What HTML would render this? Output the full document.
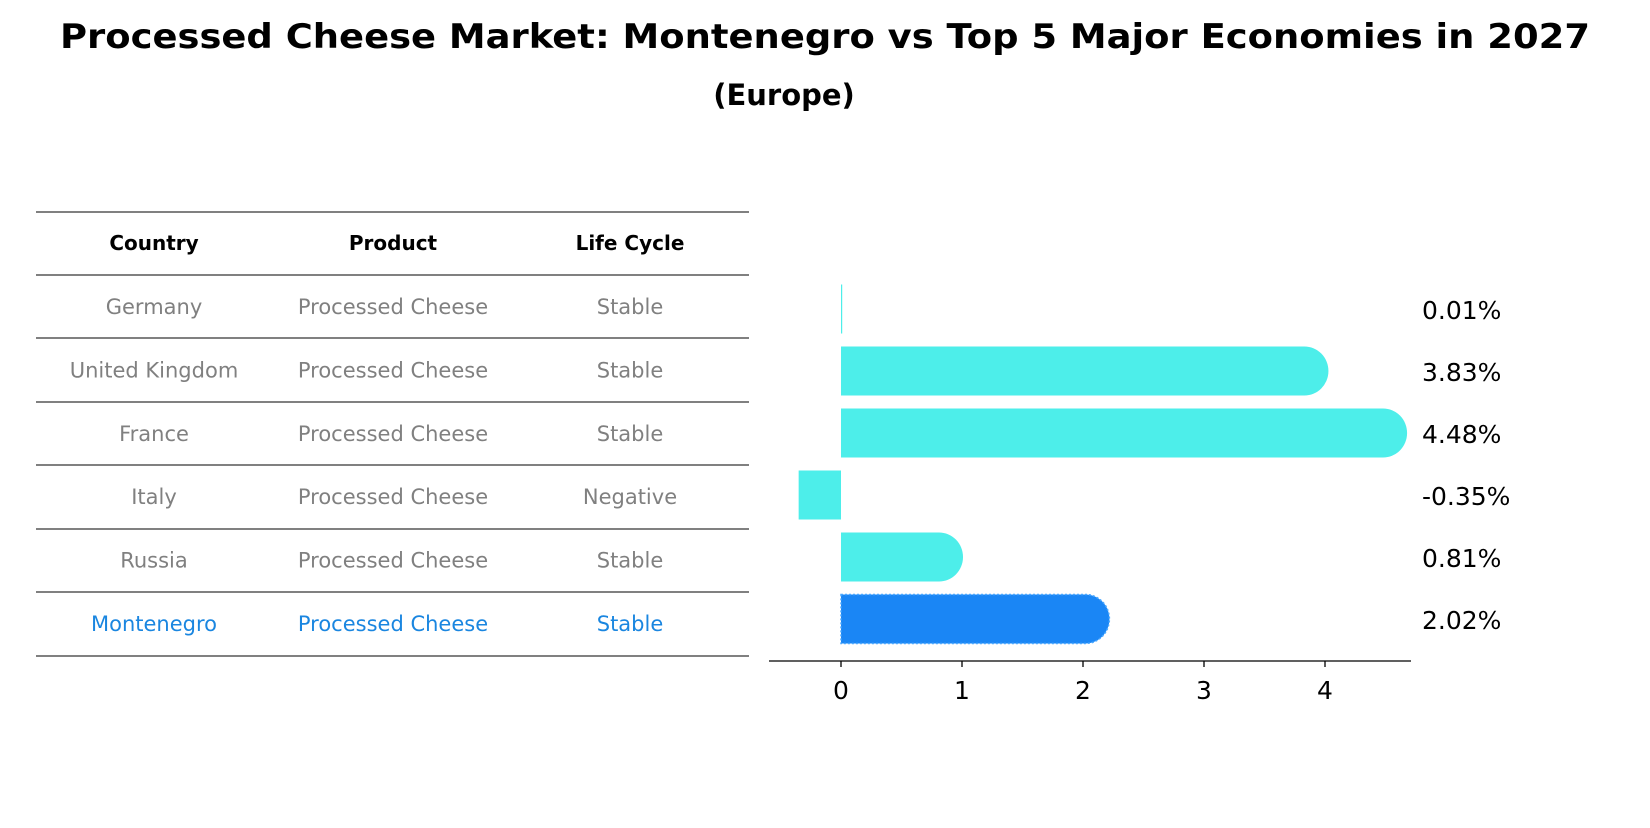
<!DOCTYPE html>
<html><head><meta charset="utf-8"><style>
body{margin:0;background:#fff;font-family:"Liberation Sans","DejaVu Sans",sans-serif}
svg text{font-family:"DejaVu Sans","Liberation Sans",sans-serif}
</style></head><body>
<svg id="c" width="1650" height="823" viewBox="0 0 1650 823" xmlns="http://www.w3.org/2000/svg">
<text x="825" y="48" text-anchor="middle" font-size="34" font-weight="bold" textLength="1530" lengthAdjust="spacingAndGlyphs">Processed Cheese Market: Montenegro vs Top 5 Major Economies in 2027</text>
<text x="784" y="105" text-anchor="middle" font-size="29" font-weight="bold">(Europe)</text>
<g id="table"></g>
<g id="bars"></g>
</svg>
<script>
const countries=["Germany","United Kingdom","France","Italy","Russia","Montenegro"];
const products=["Processed Cheese","Processed Cheese","Processed Cheese","Processed Cheese","Processed Cheese","Processed Cheese"];
const lifeCycles=["Stable","Stable","Stable","Negative","Stable","Stable"];
const growth=[0.01,3.83,4.48,-0.35,0.81,2.02];
const xTicks=[0,1,2,3,4];
const NS="http://www.w3.org/2000/svg";
function mk(tag,attrs,parent){const e=document.createElementNS(NS,tag);for(const k in attrs)e.setAttribute(k,attrs[k]);parent.appendChild(e);return e;}
const tbl=document.getElementById('table');
const colX=[154,393,630];
const lineYs=[212,275,338,402,465,529,592,656];
lineYs.forEach(y=>{const l=mk('line',{x1:36,x2:749,y1:y,y2:y,stroke:'#000','stroke-width':1},tbl);

});
["Country","Product","Life Cycle"].forEach((h,i)=>{const t=mk('text',{x:colX[i],y:250,'text-anchor':'middle','font-size':20,'font-weight':'bold'},tbl);t.textContent=h;

});
countries.forEach((c,r)=>{const y=314+r*63.4;const col=r===5?'#1a86e0':'#808080';
[c,products[r],lifeCycles[r]].forEach((v,i)=>{const t=mk('text',{x:colX[i],y:y,'text-anchor':'middle','font-size':21,fill:col},tbl);t.textContent=v;

});});
const g=document.getElementById('bars');
const x0=841,ppu=121;const xs=v=>x0+v*ppu;
const bh=49,cap=24;
growth.forEach((v,i)=>{const cy=309+i*62;const y=cy-bh/2;
const col=i===5?'#1a86f5':'#4deeea';
let el;
if(v<0){el=mk('rect',{x:xs(v),y:y,width:xs(0)-xs(v),height:bh,fill:col},g);}
else if(v<0.05){el=mk('rect',{x:x0,y:y,width:Math.max(1,xs(v)-x0),height:bh,fill:col},g);}
else{const xe=xs(v);el=mk('path',{d:`M${x0},${y}H${xe}A${cap},${bh/2} 0 0 1 ${xe},${y+bh}H${x0}Z`,fill:col},g);
if(i===5)el.setAttribute('stroke','#4aa8ff'),el.setAttribute('stroke-dasharray','2,2'),el.setAttribute('stroke-width','1.5');}


const t=mk('text',{x:1422,y:cy+10,'font-size':25},g);t.textContent=v.toFixed(2)+'%';

});
const ax=mk('line',{x1:769,x2:1411,y1:661,y2:661,stroke:'#000','stroke-width':1.3},g);


xTicks.forEach(v=>{const tk=mk('line',{x1:xs(v),x2:xs(v),y1:661,y2:667,stroke:'#000','stroke-width':1.3},g);


const t=mk('text',{x:xs(v),y:699,'text-anchor':'middle','font-size':25},g);t.textContent=v;

});
</script>
</body></html>
